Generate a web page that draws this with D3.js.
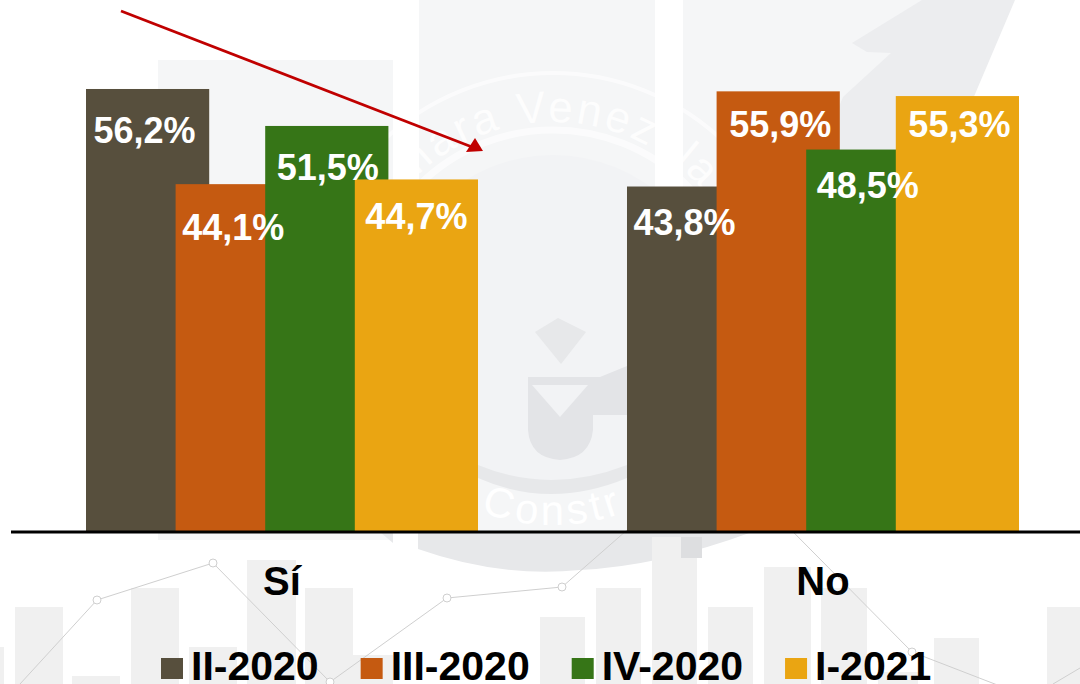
<!DOCTYPE html>
<html>
<head>
<meta charset="utf-8">
<script src="https://cdn.jsdelivr.net/npm/d3@7"></script>
<style>
  html, body { margin: 0; padding: 0; background: #fff; overflow: hidden; }
  svg { display: block; }
  text { font-family: "Liberation Sans", Arial, sans-serif; font-weight: bold; }
</style>
</head>
<body>
<div id="chart"></div>
<script>
// chart values
const categories = ["Sí", "No"];
const series = ["II-2020", "III-2020", "IV-2020", "I-2021"];
const valuesSi = [56.2, 44.1, 51.5, 44.7];
const valuesNo = [43.8, 55.9, 48.5, 55.3];
const colors = ["#574f3d", "#c55a11", "#367517", "#eaa512"];

// hand placed label nudges, [dx, baseline below bar top], same order as the values
const nudgeSi = [[-3, 54], [-4, 56], [1, 54], [0, 50]];
const nudgeNo = [[-4, 48], [2, 46], [0, 48], [2, 41]];

// watermark behind the chart
const paleRects = [[158, 60, 235, 480], [419, 0, 236, 531], [683, 0, 239, 531]];
const footerBars = [[0, 647, 4], [15, 607, 48], [43, 681, 20], [72, 676, 48], [131, 588, 48], [189, 647, 48],
  [247, 560, 49], [305, 588, 48], [352, 655, 41], [540, 617, 45], [596, 588, 45], [652, 537, 45],
  [708, 607, 45], [764, 567, 47], [821, 588, 46], [878, 672, 40], [934, 638, 45], [1047, 607, 33]];
const trendLine = [[20, 684], [97, 600], [213, 563], [330, 682], [447, 598], [562, 587], [715, 453], [912, 652], [1000, 686]];
const trendEnd = [[1053, 684], [1080, 668]];
const trendDots = [[97, 600], [213, 563], [330, 682], [447, 598], [562, 587], [912, 652]];

const width = 1080, height = 684;
const baseY = 531;

const svg = d3.select("#chart").append("svg")
    .attr("width", width)
    .attr("height", height);

drawWatermark();

const x = d3.scaleBand()
    .domain(categories)
    .range([86, 1019])
    .paddingInner(0.2754)
    .paddingOuter(0);

// bars overlap each other, so the inner padding is negative
const xInner = d3.scaleBand()
    .domain(series)
    .range([0, x.bandwidth()])
    .paddingInner(-0.375);

const y = d3.scaleLinear()
    .domain([0, 60])
    .range([baseY, baseY - 60 * 7.865]);

const rows = [];
categories.forEach((cat, c) => {
    const vals = c === 0 ? valuesSi : valuesNo;
    const nudge = c === 0 ? nudgeSi : nudgeNo;
    series.forEach((s, i) => {
        rows.push({ cat: cat, s: s, value: vals[i], color: colors[i], nudge: nudge[i] });
    });
});

svg.append("g").selectAll("rect")
    .data(rows)
    .join("rect")
    .attr("x", d => x(d.cat) + xInner(d.s))
    .attr("y", d => y(d.value))
    .attr("width", xInner.bandwidth())
    .attr("height", d => y(0) - y(d.value))
    .attr("fill", d => d.color);

// labels sit above all the bars
svg.append("g").selectAll("text")
    .data(rows)
    .join("text")
    .attr("x", d => x(d.cat) + xInner(d.s) + xInner.bandwidth() / 2 + d.nudge[0])
    .attr("y", d => y(d.value) + d.nudge[1])
    .attr("text-anchor", "middle")
    .attr("font-size", 36)
    .attr("fill", "#fff")
    .text(d => d3.format(".1f")(d.value).replace(".", ",") + "%");

// axis
const axis = svg.append("g")
    .attr("transform", `translate(0,${baseY + 1})`)
    .call(d3.axisBottom(x).tickSize(0).tickPadding(35));
axis.select(".domain").remove();
axis.selectAll("text")
    .attr("font-size", 40)
    .attr("fill", "#000")
    .style("font-family", '"Liberation Sans", Arial, sans-serif');

svg.append("line")
    .attr("x1", 11).attr("x2", width)
    .attr("y1", baseY + 1).attr("y2", baseY + 1)
    .attr("stroke", "#000")
    .attr("stroke-width", 3);

// legend, flowed from the measured text widths
let legendX = 161;
series.forEach((s, i) => {
    svg.append("rect")
        .attr("x", legendX).attr("y", 658)
        .attr("width", 22).attr("height", 21)
        .attr("fill", colors[i]);
    const t = svg.append("text")
        .attr("x", legendX + 30).attr("y", 680)
        .attr("font-size", 41)
        .attr("fill", "#000")
        .text(s);
    legendX += 30 + t.node().getComputedTextLength() + 42;
});

// red arrow
svg.append("line")
    .attr("x1", 121).attr("y1", 11)
    .attr("x2", 472).attr("y2", 147)
    .attr("stroke", "#c00000")
    .attr("stroke-width", 2.8);
svg.append("polygon")
    .attr("points", "483,151 466,152 475,138")
    .attr("fill", "#c00000");

function drawWatermark() {
    const g = svg.append("g");

    g.selectAll("rect.pale")
        .data(paleRects)
        .join("rect")
        .attr("class", "pale")
        .attr("x", d => d[0]).attr("y", d => d[1])
        .attr("width", d => d[2]).attr("height", d => d[3])
        .attr("fill", "#f5f6f7");

    // big arrow top right
    g.append("path")
        .attr("d", "M852,43 L922,0 L1015,0 L930,200 L800,200 L843,97 L891,53 L867,52 Z")
        .attr("fill", "#ecedef");

    // logo disk and the shapes inside it
    g.append("circle").attr("cx", 553).attr("cy", 320).attr("r", 165).attr("fill", "#f2f3f5");
    g.append("path")
        .attr("d", "M528,377 L600,377 L627,366 L627,415 L593,415 L593,430 Q590,458 560,460 Q530,458 528,430 Z")
        .attr("fill", "#e3e4e7");
    g.append("path").attr("d", "M532,385 L588,385 L560,417 Z").attr("fill", "#f2f3f5");
    g.append("path").attr("d", "M535,332 L558,318 L586,332 L561,364 Z").attr("fill", "#e7e8ea");
    g.append("path")
        .attr("d", "M478,465 Q550,495 627,465 L627,478 Q550,510 478,478 Z")
        .attr("fill", "#e7e8ea");

    // lower rim of the logo, under the axis
    g.append("path")
        .attr("d", "M418,532 L418,549 Q500,578 580,570 Q660,566 752,532 Z")
        .attr("fill", "#e7e8ea");
    g.append("path").attr("d", "M380,532 L393,532 L393,543 Z").attr("fill", "#e7e8ea");

    g.selectAll("rect.foot")
        .data(footerBars)
        .join("rect")
        .attr("class", "foot")
        .attr("x", d => d[0]).attr("y", d => d[1])
        .attr("width", d => d[2]).attr("height", d => height - d[1])
        .attr("fill", "#f0f0f0");
    g.append("rect").attr("x", 681).attr("y", 537).attr("width", 21).attr("height", 21).attr("fill", "#dddee0");

    // logo rings and lettering on arcs
    g.append("path").attr("d", "M306,320 A247,247 0 0 1 800,320").attr("fill", "none").attr("stroke", "#fff").attr("stroke-width", 4).attr("opacity", 0.6);
    g.append("path").attr("d", "M363,320 A190,190 0 0 1 743,320").attr("fill", "none").attr("stroke", "#fff").attr("stroke-width", 7).attr("opacity", 0.6);
    const defs = svg.append("defs");
    defs.append("path").attr("id", "arcTop").attr("d", "M355,320 A198,198 0 0 1 751,320");
    defs.append("path").attr("id", "arcBottom").attr("d", "M348,320 A205,205 0 0 0 758,320");
    g.append("text")
        .attr("font-size", 44).attr("fill", "#fff").attr("letter-spacing", 3).attr("opacity", 0.8)
        .style("font-weight", "normal")
        .append("textPath").attr("href", "#arcTop").attr("startOffset", "50%").attr("text-anchor", "middle")
        .text("Cámara Venezolana");
    g.append("text")
        .attr("font-size", 42).attr("fill", "#fff").attr("letter-spacing", 4)
        .style("font-weight", "normal")
        .append("textPath").attr("href", "#arcBottom").attr("startOffset", "50%").attr("text-anchor", "middle")
        .text("Constr");

    // thin trend line with open dots
    const line = d3.line();
    g.append("path").attr("d", line(trendLine)).attr("fill", "none").attr("stroke", "#cfcfcf").attr("stroke-width", 1);
    g.append("path").attr("d", line(trendEnd)).attr("fill", "none").attr("stroke", "#cfcfcf").attr("stroke-width", 1);
    g.selectAll("circle.dot")
        .data(trendDots)
        .join("circle")
        .attr("class", "dot")
        .attr("cx", d => d[0]).attr("cy", d => d[1]).attr("r", 4)
        .attr("fill", "#fff").attr("stroke", "#cfcfcf");
}
</script>
</body>
</html>
